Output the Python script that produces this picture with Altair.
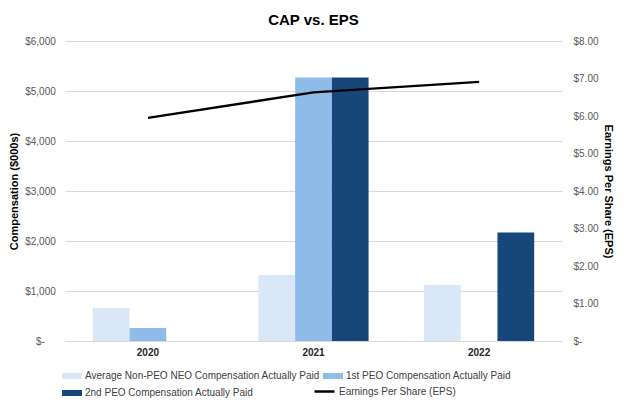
import altair as alt
import pandas as pd

years = ["2020", "2021", "2022"]
series_names = [
    "Average Non-PEO NEO Compensation Actually Paid",
    "1st PEO Compensation Actually Paid",
    "2nd PEO Compensation Actually Paid",
]
non_peo = [660, 1320, 1120]
peo1 = [260, 5270, None]
peo2 = [None, 5270, 2170]
eps = [5.95, 6.63, 6.91]
eps_name = "Earnings Per Share (EPS)"
comp_ticks = [0, 1000, 2000, 3000, 4000, 5000, 6000]
eps_ticks = [0, 1, 2, 3, 4, 5, 6, 7, 8]
bar_colors = ["#d9e7f6", "#8fbbe8", "#17467b"]

rows = []
for name, vals in zip(series_names, [non_peo, peo1, peo2]):
    for yr, v in zip(years, vals):
        if v is not None:
            rows.append({"year": yr, "series": name, "value": v})
bars_df = pd.DataFrame(rows)
line_df = pd.DataFrame({"year": years, "eps": eps, "series": [eps_name] * len(years)})

FONT = "Liberation Sans"

x_enc = alt.X(
    "year:N",
    scale=alt.Scale(domain=years, paddingInner=0.335, paddingOuter=0.168),
    axis=alt.Axis(
        title=None, labelFont=FONT, labelFontSize=10, labelFontWeight="bold",
        labelColor="#262626", ticks=False, domainColor="#d9d9d9", labelPadding=6,
        labelAngle=0,
    ),
)

bars = alt.Chart(bars_df).mark_bar().encode(
    x=x_enc,
    xOffset=alt.XOffset("series:N", scale=alt.Scale(domain=series_names, paddingInner=0, paddingOuter=0)),
    y=alt.Y(
        "value:Q",
        scale=alt.Scale(domain=[0, 6000], nice=False),
        axis=alt.Axis(
            values=comp_ticks,
            labelExpr="datum.value == 0 ? '$-' : '$' + format(datum.value, ',')",
            title="Compensation ($000s)", titleFont=FONT, titleFontSize=11,
            titleFontWeight="bold", titleColor="#000000", titlePadding=5,
            grid=True, gridColor="#d9d9d9", domain=False, ticks=False,
            labelAlign="center", labelPadding=25, labelFont=FONT, labelFontSize=10,
            labelColor="#595959",
        ),
    ),
    color=alt.Color(
        "series:N",
        scale=alt.Scale(domain=series_names, range=bar_colors),
        legend=alt.Legend(
            title=None, orient="none", legendX=-3, legendY=325, columns=2,
            direction="horizontal",
            symbolType="M-1,-0.3H1V0.3H-1Z", symbolSize=400, symbolStrokeWidth=0,
            labelFont=FONT, labelFontSize=10, labelColor="#404040", labelLimit=0,
            columnPadding=3, rowPadding=2, labelOffset=3, padding=0,
        ),
    ),
)

line = alt.Chart(line_df).mark_line(strokeWidth=2.5).encode(
    x=x_enc,
    y=alt.Y(
        "eps:Q",
        scale=alt.Scale(domain=[0, 8], nice=False),
        axis=alt.Axis(
            orient="right", values=eps_ticks,
            labelExpr="datum.value == 0 ? '$-' : '$' + format(datum.value, '.2f')",
            title="Earnings Per Share (EPS)", titleFont=FONT, titleFontSize=11,
            titleFontWeight="bold", titleColor="#000000", titlePadding=4,
            grid=False, domain=False, ticks=False, labelPadding=11,
            labelFont=FONT, labelFontSize=10, labelColor="#595959",
        ),
    ),
    stroke=alt.Stroke(
        "series:N",
        scale=alt.Scale(domain=[eps_name], range=["#000000"]),
        legend=alt.Legend(
            title=None, orient="none", legendX=248, legendY=339,
            symbolType="stroke", symbolSize=400, symbolStrokeWidth=2.5,
            labelFont=FONT, labelFontSize=10, labelColor="#404040", labelLimit=0,
            labelOffset=3, padding=0,
        ),
    ),
)

chart = (
    alt.layer(bars, line)
    .resolve_scale(y="independent", color="independent", stroke="independent")
    .properties(
        width=497, height=300,
        title=alt.TitleParams("CAP vs. EPS", font=FONT, fontSize=15, fontWeight="bold",
                              color="#000000", anchor="middle", offset=8),
        autosize=alt.AutoSizeParams(type="none"),
        padding={"left": 57, "top": 33, "right": 54, "bottom": 57},
    )
    .configure_view(stroke=None)
)

chart.save("out.html", embed_options={"renderer": "svg", "actions": False})
